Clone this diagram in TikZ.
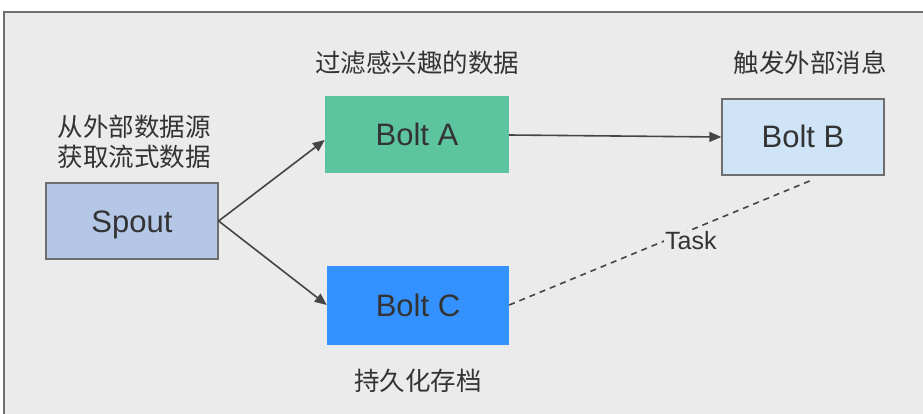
\documentclass[tikz,border=0pt]{standalone}
\usepackage{fontspec}
\setmainfont{Liberation Sans}
\newfontfamily\cjk{Noto Sans CJK SC}
\usetikzlibrary{arrows.meta}
\definecolor{bgc}{HTML}{EBEBEB}
\definecolor{framec}{HTML}{6E6E6E}
\definecolor{linec}{HTML}{454545}
\definecolor{spoutc}{HTML}{B4C7E7}
\definecolor{boltac}{HTML}{5CC49E}
\definecolor{boltbc}{HTML}{D0E4F8}
\definecolor{boltcc}{HTML}{3392FF}
\definecolor{txtc}{HTML}{333333}
\begin{document}
\begin{tikzpicture}[x=1pt,y=-1pt,
  box/.style={rectangle, inner sep=0pt, font=\fontsize{31}{34}\selectfont, text=txtc, text height=22pt, text depth=0pt},
  lbl/.style={font=\cjk\fontsize{25.5}{30}\selectfont, text=txtc, align=center},
  arr/.style={draw=linec, line width=1.6pt, -{Triangle[length=12pt,width=10pt]}},
  dashline/.style={draw=linec, line width=1.6pt, dash pattern=on 6pt off 5pt}]
\useasboundingbox (0,0) rectangle (923,414);
\fill[white] (0,0) rectangle (923,414);
\fill[bgc] (4,12) rectangle (925,416);
\draw[framec, line width=1.5pt] (4,416) -- (4,12) -- (925,12);
% nodes
\node[box, draw=framec, line width=1.3pt, fill=spoutc, minimum width=172pt, minimum height=76pt] (spout) at (132,221) {Spout};
\node[box, fill=boltac, minimum width=184pt, minimum height=77pt] (a) at (417,135) {Bolt A};
\node[box, draw=framec, line width=1.3pt, fill=boltbc, minimum width=162pt, minimum height=76pt] (b) at (803,137) {Bolt B};
\node[box, fill=boltcc, minimum width=182pt, minimum height=79pt] (c) at (418,305) {Bolt C};
% labels
\node[lbl] (la) at (417,63) {过滤感兴趣的数据};
\node[lbl] (lb) at (810,63) {触发外部消息};
\node[lbl] (ls) at (134,142) {从外部数据源\\获取流式数据};
\node[lbl] (lc) at (418,381) {持久化存档};
% connectors
\coordinate (bend) at (812,180);
\draw[arr] (spout.east) -- (a.west |- 0,140);
\draw[arr] (spout.east) -- (c.west);
\draw[arr] (a.east) -- (b.west);
\draw[dashline] (c.east) -- node[pos=0.6, fill=bgc, inner sep=1pt, font=\fontsize{25}{28}\selectfont, text=txtc, yshift=-11pt] (task) {Task} (bend);
\end{tikzpicture}
\end{document}
